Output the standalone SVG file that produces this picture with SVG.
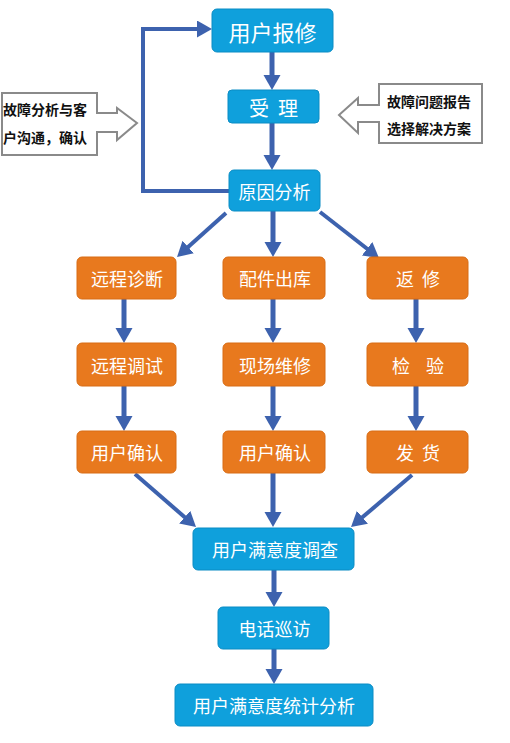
<svg xmlns="http://www.w3.org/2000/svg" width="510" height="743" viewBox="0 0 510 743">
<defs>
<style>
.b{fill:#0fa0dc;stroke:#0b8cc4;stroke-width:1}
.o{fill:#e8791e;stroke:#d86c14;stroke-width:1}
.t{fill:#fff;font-family:"Noto Sans CJK SC","Noto Sans",sans-serif;font-size:18px;text-anchor:middle;dominant-baseline:central}
.c{fill:#fff;stroke:#8a8a8a;stroke-width:2}
.ct{fill:#111;font-family:"Noto Sans CJK SC","Noto Sans",sans-serif;font-size:14px;font-weight:bold}
.a{fill:none;stroke:#3d62ae;stroke-width:5}
.d{fill:none;stroke:#3d62ae;stroke-width:4}
</style>
<marker id="ah" markerUnits="userSpaceOnUse" markerWidth="16" markerHeight="18" refX="2" refY="8.5" orient="auto">
<path d="M0,0 L15,8.5 L0,17 Z" fill="#3d62ae"/>
</marker>
</defs>
<rect width="510" height="743" fill="#fff"/>
<g id="connectors">
<path class="a" d="M272,52 V77" marker-end="url(#ah)"/>
<path class="a" d="M272,123 V157" marker-end="url(#ah)"/>
<path class="d" d="M229,191 H143 V29 H199" marker-end="url(#ah)"/>
<path class="a" d="M273,211 V244" marker-end="url(#ah)"/>
<path class="d" d="M226,213 L186.7,248.3" marker-end="url(#ah)"/>
<path class="d" d="M320,212 L368.7,250" marker-end="url(#ah)"/>
<path class="a" d="M124,299 V330" marker-end="url(#ah)"/>
<path class="a" d="M124,386 V418" marker-end="url(#ah)"/>
<path class="a" d="M273,299 V330" marker-end="url(#ah)"/>
<path class="a" d="M273,386 V418" marker-end="url(#ah)"/>
<path class="a" d="M416,299 V330" marker-end="url(#ah)"/>
<path class="a" d="M416,386 V418" marker-end="url(#ah)"/>
<path class="d" d="M135,474 L186.2,518.5" marker-end="url(#ah)"/>
<path class="a" d="M273,473 V514" marker-end="url(#ah)"/>
<path class="d" d="M412,475 L360.9,518.6" marker-end="url(#ah)"/>
<path class="a" d="M274,570 V594" marker-end="url(#ah)"/>
<path class="a" d="M274,649 V671" marker-end="url(#ah)"/>
</g>
<g id="callout-left">
<path class="c" d="M2,93 H97 V113 H117 V108 L137,123 L117,140 V132 H97 V155 H2 Z"/>
<text class="ct" x="3" y="115">故障分析与客</text>
<text class="ct" x="3" y="143">户沟通，确认</text>
</g>
<g id="callout-right">
<path class="c" d="M379,84 V105 H358 V98 L339,115 L358,133 V122 H379 V143 H482 V84 Z"/>
<text class="ct" x="387" y="107">故障问题报告</text>
<text class="ct" x="387" y="134">选择解决方案</text>
</g>
<g id="n1"><rect class="b" x="212" y="9" width="121" height="43" rx="5"/><text class="t" x="272.5" y="31" style="font-size:22px">用户报修</text></g>
<g id="n2"><rect class="b" x="228" y="90" width="91" height="33" rx="4"/><text class="t" x="273.5" y="107" style="font-size:20px" xml:space="preserve">受  理</text></g>
<g id="n3"><rect class="b" x="229" y="170" width="91" height="41" rx="5"/><text class="t" x="274.5" y="191">原因分析</text></g>
<g id="n4"><rect class="o" x="77" y="257" width="99" height="42" rx="5"/><text class="t" x="127" y="278">远程诊断</text></g>
<g id="n5"><rect class="o" x="223" y="257" width="102" height="42" rx="5"/><text class="t" x="275" y="278">配件出库</text></g>
<g id="n6"><rect class="o" x="367" y="257" width="101" height="42" rx="5"/><text class="t" x="418" y="278" xml:space="preserve">返  修</text></g>
<g id="n7"><rect class="o" x="77" y="343" width="99" height="43" rx="5"/><text class="t" x="127" y="365">远程调试</text></g>
<g id="n8"><rect class="o" x="223" y="343" width="102" height="43" rx="5"/><text class="t" x="275" y="365">现场维修</text></g>
<g id="n9"><rect class="o" x="367" y="343" width="101" height="43" rx="5"/><text class="t" x="418" y="365" xml:space="preserve">检    验</text></g>
<g id="n10"><rect class="o" x="77" y="431" width="99" height="42" rx="5"/><text class="t" x="127" y="452">用户确认</text></g>
<g id="n11"><rect class="o" x="223" y="431" width="102" height="42" rx="5"/><text class="t" x="275" y="452">用户确认</text></g>
<g id="n12"><rect class="o" x="367" y="431" width="101" height="42" rx="5"/><text class="t" x="418" y="452" xml:space="preserve">发  货</text></g>
<g id="n13"><rect class="b" x="193" y="528" width="161" height="42" rx="5"/><text class="t" x="275" y="549">用户满意度调查</text></g>
<g id="n14"><rect class="b" x="218" y="607" width="111" height="42" rx="5"/><text class="t" x="274.5" y="628">电话巡访</text></g>
<g id="n15"><rect class="b" x="175" y="684" width="198" height="42" rx="5"/><text class="t" x="274" y="705">用户满意度统计分析</text></g>
</svg>
